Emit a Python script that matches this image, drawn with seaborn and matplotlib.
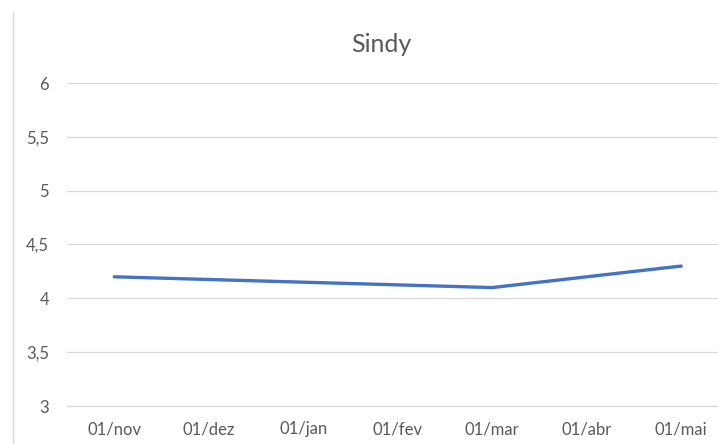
import numpy as np
import pandas as pd
import matplotlib
matplotlib.use("Agg")
import matplotlib.pyplot as plt
import seaborn as sns
from matplotlib.lines import Line2D
from matplotlib.ticker import FuncFormatter

# Données (mois sans valeur = None)
mois = ["01/nov", "01/dez", "01/jan", "01/fev", "01/mar", "01/abr", "01/mai"]
valeurs = [4.2, None, None, None, 4.1, None, 4.3]
y_ticks = [3, 3.5, 4, 4.5, 5, 5.5, 6]

df = pd.DataFrame({"pos": np.arange(len(mois)), "mois": mois, "valeur": valeurs})
df = df.dropna(subset=["valeur"])

sns.set_theme(style="white")
plt.rcParams["font.family"] = ["Lato", "DejaVu Sans"]

gris_txt = "#595959"
gris_ligne = "#d9d9d9"

fig = plt.figure(figsize=(7.18, 4.44), dpi=100)
ax = fig.add_axes([67 / 718, 38 / 444, 661.5 / 718, 323 / 444])

sns.lineplot(data=df, x="pos", y="valeur", ax=ax, color="#4472C4",
             linewidth=2.4, solid_capstyle="round", solid_joinstyle="round")

ax.set_xlim(-0.5, len(mois) - 0.5)
ax.set_ylim(y_ticks[0], y_ticks[-1])
ax.set_yticks(y_ticks)
ax.yaxis.set_major_formatter(FuncFormatter(lambda v, p: f"{v:g}".replace(".", ",")))
ax.set_xticks(np.arange(len(mois)))
ax.set_xticklabels(mois)
ax.set_xticks(np.arange(len(mois) + 1) - 0.5, minor=True)

ax.grid(axis="y", color=gris_ligne, linewidth=0.9)
ax.set_axisbelow(True)
for s in ["top", "right", "left"]:
    ax.spines[s].set_visible(False)
ax.spines["bottom"].set_color(gris_ligne)
ax.spines["bottom"].set_linewidth(0.9)

ax.tick_params(axis="x", which="major", length=0, pad=11, labelsize=12, labelcolor=gris_txt)
ax.tick_params(axis="x", which="minor", length=4, width=0.9, color=gris_ligne, direction="out")
ax.tick_params(axis="y", length=0, pad=13, labelsize=12, labelcolor=gris_txt)
ax.set_xlabel("")
ax.set_ylabel("")

fig.text(381 / 718, 1 - 44 / 444, "Sindy", ha="center", va="center",
         fontsize=18, color=gris_txt)

# trait vertical gris à gauche (bord de la feuille)
fig.add_artist(Line2D([13 / 718, 13 / 718], [0, 1 - 13 / 444],
                      transform=fig.transFigure, color=gris_ligne, linewidth=1))

fig.savefig("out.png", dpi=100)
